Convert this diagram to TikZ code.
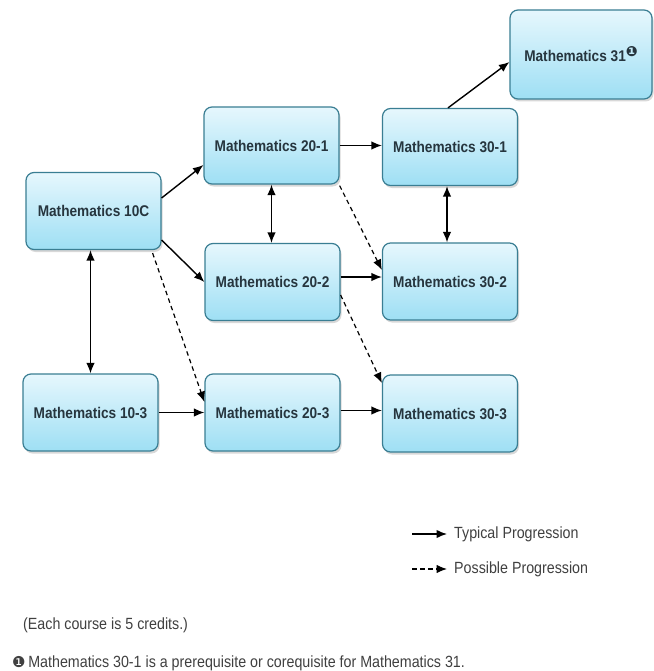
\documentclass[tikz,border=0pt]{standalone}
\usepackage{fontspec}
\setmainfont{Liberation Sans}
\newfontfamily\narrowfont[FakeStretch=0.88]{Liberation Sans}
\newfontfamily\symfont{DejaVu Sans}
\usetikzlibrary{shadows,calc,arrows.meta}
\definecolor{boxtop}{HTML}{E6F7FD}
\definecolor{boxbot}{HTML}{9EDFF4}
\definecolor{boxedge}{HTML}{3A7E93}
\definecolor{boxtext}{HTML}{26353E}
\definecolor{greytext}{HTML}{404040}
\begin{document}
\begin{tikzpicture}[x=1pt,y=-1pt,
  course/.style={draw=boxedge, line width=1.2pt, rounded corners=8pt,
    top color=boxtop, bottom color=boxbot,
    minimum width=135pt, minimum height=77pt, inner sep=0pt,
    font=\narrowfont\bfseries\fontsize{15.5}{18}\selectfont, text=boxtext,
    drop shadow={shadow xshift=1.5pt, shadow yshift=-2.5pt, opacity=0.3}},
  typ/.style={-{Latex[length=10.5pt,width=8.5pt]}, line width=1.4pt},
  poss/.style={typ, line width=1.2pt, dash pattern=on 4.5pt off 3.5pt},
  both/.style={{Latex[length=10.5pt,width=8.5pt]}-{Latex[length=10.5pt,width=8.5pt]}, line width=1.4pt},
  note/.style={font=\narrowfont\fontsize{16.2}{19}\selectfont, text=greytext, inner sep=0pt, anchor=west}]
\useasboundingbox (0,0) rectangle (653,671);
\fill[white] (0,0) rectangle (653,671);

\node[course] (m10c) at (93.5,211) {Mathematics 10C};
\node[course] (m201) at (271.5,145.5) {Mathematics 20-1};
\node[course] (m202) at (272.5,282) {Mathematics 20-2};
\node[course] (m301) at (450,147) {Mathematics 30-1};
\node[course] (m302) at (450,281.5) {Mathematics 30-2};
\node[course, minimum width=142pt, minimum height=89pt] (m31) at (581,54.5)
  {Mathematics 31\raisebox{5pt}{\symfont\fontsize{14}{14}\selectfont ❶}};
\node[course] (m103) at (90.5,412.5) {Mathematics 10-3};
\node[course] (m203) at (272.5,412.5) {Mathematics 20-3};
\node[course] (m303) at (450,413.5) {Mathematics 30-3};

\draw[typ] ($(m10c.east)+(0,-13)$) -- ($(m201.west)+(0,19.5)$);
\draw[typ] ($(m10c.east)+(0,29)$) -- (m202.west);
\draw[both] (m10c.south -| m103.north) -- (m103.north);
\draw[poss] ($(m10c.south east)+(-9,3)$) -- ($(m203.west)+(0,-10.5)$);
\draw[typ] (m201.east) -- (m201.east -| m301.west);
\draw[both] (m201.south) -- (m201.south |- m202.north);
\draw[poss] ($(m201.south east)+(0,1)$) -- ($(m302.west)+(0,-11.5)$);
\draw[typ] ($(m202.east)+(0,-5)$) -- ($(m202.east -| m302.west)+(0,-5)$);
\draw[poss] ($(m202.east)+(0,13)$) -- ($(m303.west)+(0,-30.5)$);
\draw[typ] (m103.east) -- (m103.east -| m203.west);
\draw[typ] ($(m203.east)+(0,-2)$) -- ($(m203.east -| m303.west)+(0,-2)$);
\draw[typ] ($(m301.north)+(-2,0)$) -- ($(m31.west)+(0,7.5)$);
\draw[both] ($(m301.south)+(-3,0)$) -- ($(m301.south |- m302.north)+(-3,0)$);

\coordinate (l1s) at (412,534);
\coordinate (l1e) at (447,534);
\draw[typ] (l1s) -- (l1e);
\node[note] (l1t) at (454,534) {Typical Progression};
\coordinate (l2s) at (412,569);
\coordinate (l2e) at (447,569);
\draw[poss] (l2s) -- (l2e);
\node[note] (l2t) at (454,569) {Possible Progression};

\node[note] (credits) at (23,625) {(Each course is 5 credits.)};
\node[note] (foot) at (12,663) {{\symfont\fontsize{15}{15}\selectfont ❶}\,Mathematics 30-1 is a prerequisite or corequisite for Mathematics 31.};
\end{tikzpicture}
\end{document}
